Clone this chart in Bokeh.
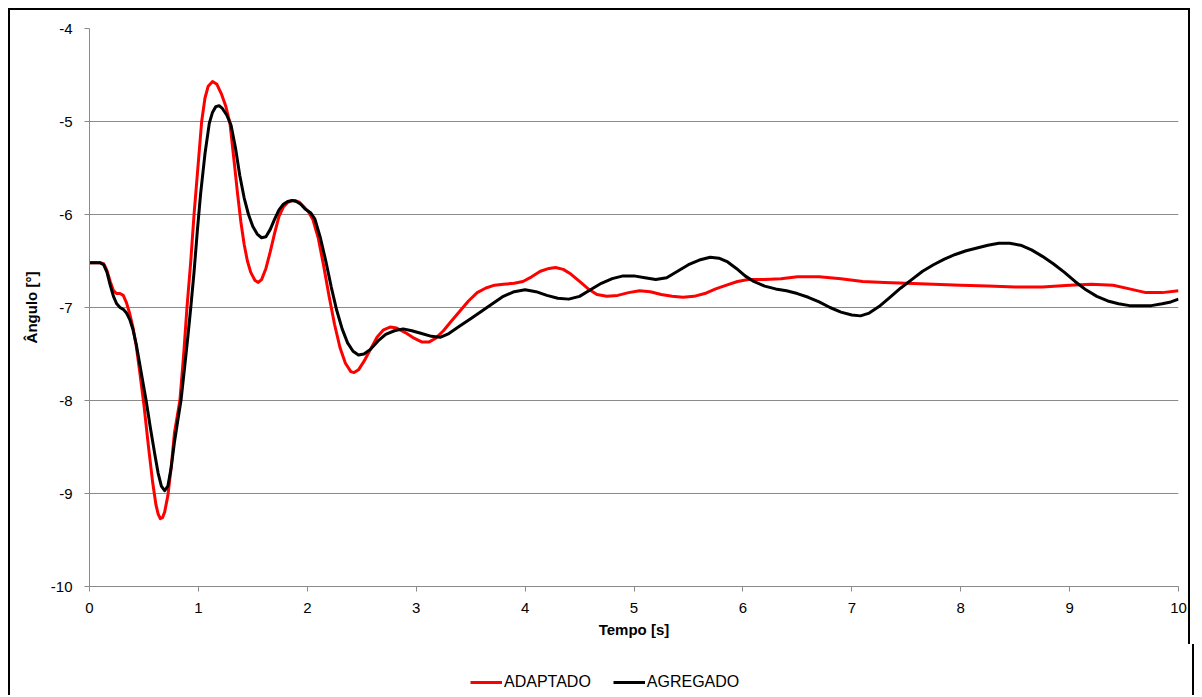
from bokeh.plotting import figure
from bokeh.models import Range1d, FixedTicker, Legend, LegendItem
from bokeh.layouts import column
from bokeh.embed import file_html
from bokeh.resources import INLINE

# ---- data ----
t_adaptado = [0, 0.05, 0.10, 0.13, 0.16, 0.19, 0.22, 0.25, 0.28, 0.31, 0.34, 0.37, 0.40, 0.43, 0.46,
              0.50, 0.54, 0.58, 0.61, 0.63, 0.65, 0.67, 0.69, 0.72, 0.75, 0.78, 0.83, 0.865, 0.895, 0.93,
              0.96, 0.995, 1.03, 1.06, 1.09, 1.13, 1.17, 1.21, 1.25, 1.29, 1.33, 1.36, 1.39, 1.42, 1.45,
              1.48, 1.52, 1.55, 1.58, 1.62, 1.66, 1.70, 1.74, 1.78, 1.82, 1.86, 1.89, 1.93, 1.97, 2.01,
              2.05, 2.10, 2.15, 2.20, 2.25, 2.30, 2.35, 2.40, 2.43, 2.47, 2.52, 2.58, 2.64, 2.70, 2.76,
              2.82, 2.90, 2.98, 3.05, 3.12, 3.18, 3.25, 3.32, 3.40, 3.48, 3.56, 3.64, 3.72, 3.80, 3.90,
              3.98, 4.06, 4.14, 4.22, 4.28, 4.35, 4.42, 4.50, 4.58, 4.66, 4.75, 4.85, 4.95, 5.05, 5.15,
              5.25, 5.35, 5.45, 5.55, 5.65, 5.75, 5.85, 5.95, 6.05, 6.20, 6.35, 6.50, 6.70, 6.90, 7.10,
              7.30, 7.50, 7.75, 8.00, 8.25, 8.50, 8.75, 9.00, 9.20, 9.40, 9.55, 9.70, 9.85, 10.0]
adaptado = [-6.52, -6.52, -6.52, -6.53, -6.60, -6.72, -6.82, -6.85, -6.85, -6.87, -6.95, -7.07, -7.22, -7.42, -7.68,
            -8.05, -8.48, -8.88, -9.12, -9.22, -9.27, -9.26, -9.20, -9.02, -8.72, -8.35, -8.00, -7.50, -7.00, -6.50,
            -6.00, -5.50, -5.00, -4.75, -4.62, -4.57, -4.60, -4.70, -4.83, -5.02, -5.45, -5.78, -6.08, -6.32, -6.50,
            -6.62, -6.71, -6.73, -6.70, -6.58, -6.40, -6.20, -6.02, -5.92, -5.87, -5.85, -5.85, -5.87, -5.92, -5.97,
            -6.05, -6.25, -6.55, -6.88, -7.18, -7.43, -7.60, -7.69, -7.70, -7.67, -7.58, -7.45, -7.32, -7.24, -7.21,
            -7.22, -7.27, -7.33, -7.37, -7.37, -7.33, -7.25, -7.15, -7.04, -6.93, -6.84, -6.79, -6.76, -6.75, -6.74,
            -6.72, -6.67, -6.61, -6.58, -6.57, -6.59, -6.64, -6.72, -6.80, -6.86, -6.88, -6.87, -6.84, -6.82, -6.83,
            -6.86, -6.88, -6.89, -6.88, -6.85, -6.80, -6.76, -6.72, -6.70, -6.70, -6.69, -6.67, -6.67, -6.69, -6.72,
            -6.73, -6.74, -6.75, -6.76, -6.77, -6.78, -6.78, -6.76, -6.75, -6.76, -6.80, -6.84, -6.84, -6.82]

t_agregado = [0, 0.05, 0.10, 0.13, 0.16, 0.19, 0.22, 0.25, 0.28, 0.31, 0.34, 0.37, 0.40, 0.43, 0.46,
              0.49, 0.52, 0.56, 0.60, 0.63, 0.66, 0.69, 0.72, 0.75, 0.78, 0.81, 0.84, 0.87, 0.90, 0.93,
              0.96, 0.99, 1.02, 1.06, 1.10, 1.13, 1.16, 1.19, 1.22, 1.26, 1.30, 1.34, 1.38, 1.42, 1.46,
              1.50, 1.54, 1.58, 1.62, 1.66, 1.70, 1.74, 1.78, 1.82, 1.86, 1.90, 1.94, 1.98, 2.03, 2.07,
              2.12, 2.17, 2.22, 2.27, 2.32, 2.37, 2.42, 2.47, 2.52, 2.58, 2.65, 2.72, 2.80, 2.88, 2.96,
              3.05, 3.14, 3.22, 3.30, 3.40, 3.50, 3.60, 3.70, 3.80, 3.90, 4.00, 4.10, 4.20, 4.30, 4.40,
              4.50, 4.60, 4.70, 4.80, 4.90, 5.00, 5.10, 5.20, 5.30, 5.40, 5.50, 5.60, 5.70, 5.78, 5.86,
              5.94, 6.02, 6.10, 6.20, 6.30, 6.40, 6.50, 6.60, 6.70, 6.80, 6.90, 7.00, 7.08, 7.16, 7.25,
              7.35, 7.45, 7.55, 7.65, 7.75, 7.85, 7.95, 8.05, 8.15, 8.25, 8.35, 8.45, 8.55, 8.65, 8.75,
              8.85, 8.95, 9.05, 9.15, 9.25, 9.35, 9.45, 9.55, 9.65, 9.75, 9.85, 9.93, 10.0]
agregado = [-6.52, -6.52, -6.52, -6.54, -6.62, -6.76, -6.88, -6.96, -7.00, -7.02, -7.06, -7.13, -7.24, -7.40, -7.60,
            -7.80, -8.00, -8.30, -8.58, -8.78, -8.92, -8.97, -8.92, -8.72, -8.45, -8.22, -8.00, -7.68, -7.35, -7.00,
            -6.62, -6.18, -5.78, -5.35, -5.02, -4.90, -4.84, -4.83, -4.86, -4.93, -5.04, -5.28, -5.58, -5.82, -6.00,
            -6.13, -6.21, -6.25, -6.24, -6.16, -6.05, -5.95, -5.89, -5.86, -5.85, -5.86, -5.89, -5.94, -5.98, -6.05,
            -6.25, -6.50, -6.78, -7.03, -7.23, -7.38, -7.47, -7.51, -7.50, -7.45, -7.36, -7.29, -7.25, -7.23, -7.25,
            -7.28, -7.31, -7.32, -7.28, -7.20, -7.12, -7.04, -6.96, -6.88, -6.83, -6.81, -6.83, -6.87, -6.90, -6.91,
            -6.88, -6.81, -6.74, -6.69, -6.66, -6.66, -6.68, -6.70, -6.68, -6.61, -6.54, -6.49, -6.46, -6.47, -6.51,
            -6.58, -6.66, -6.72, -6.77, -6.80, -6.82, -6.85, -6.89, -6.94, -7.00, -7.05, -7.08, -7.09, -7.06, -6.99,
            -6.89, -6.79, -6.70, -6.61, -6.54, -6.48, -6.43, -6.39, -6.36, -6.33, -6.31, -6.31, -6.33, -6.38, -6.45,
            -6.53, -6.62, -6.72, -6.81, -6.88, -6.93, -6.96, -6.98, -6.98, -6.98, -6.96, -6.94, -6.91]

x_ticks = [0, 1, 2, 3, 4, 5, 6, 7, 8, 9, 10]
y_ticks = [-10, -9, -8, -7, -6, -5, -4]
x_tick_labels = ["0", "1", "2", "3", "4", "5", "6", "7", "8", "9", "10"]
y_tick_labels = ["-10", "-9", "-8", "-7", "-6", "-5", "-4"]
series_names = ["ADAPTADO", "AGREGADO"]
series_colors = ["#ff0000", "#000000"]

FONT = "Liberation Sans"
GRAY = "#8a8a8a"

# ---- main chart ----
p = figure(frame_width=1085, frame_height=556, output_backend="svg", toolbar_location=None,
           x_range=Range1d(0, 10), y_range=Range1d(-10, -4),
           min_border_left=79, min_border_right=14, min_border_top=18, min_border_bottom=60)
p.styles = {"border-top": "2px solid black", "border-left": "2px solid black",
            "border-right": "2px solid black"}
p.outline_line_color = None
p.background_fill_color = "white"
p.border_fill_color = "white"

p.line(t_adaptado, adaptado, line_color=series_colors[0], line_width=3, line_join="round")
p.line(t_agregado, agregado, line_color=series_colors[1], line_width=3, line_join="round")

p.xaxis.ticker = FixedTicker(ticks=x_ticks)
p.yaxis.ticker = FixedTicker(ticks=y_ticks)
p.xaxis.major_label_overrides = {k: v for k, v in zip(x_ticks, x_tick_labels)}
p.yaxis.major_label_overrides = {k: v for k, v in zip(y_ticks, y_tick_labels)}

for ax in (p.xaxis, p.yaxis):
    ax.axis_line_color = GRAY
    ax.major_tick_line_color = GRAY
    ax.minor_tick_line_color = None
    ax.major_tick_in = 0
    ax.major_tick_out = 5
    ax.major_label_text_font = FONT
    ax.major_label_text_font_size = "15px"
    ax.major_label_text_color = "black"
    ax.axis_label_text_font = FONT
    ax.axis_label_text_font_size = "15px"
    ax.axis_label_text_font_style = "bold"
    ax.axis_label_text_color = "black"

p.xaxis.axis_label = "Tempo [s]"
p.yaxis.axis_label = "Ângulo [°]"
p.xaxis.major_label_standoff = 11
p.xaxis.axis_label_standoff = 5
p.yaxis.major_label_standoff = 12
p.yaxis.axis_label_standoff = 8

p.xgrid.grid_line_color = None
p.ygrid.grid_line_color = GRAY
p.ygrid.grid_line_width = 1

# ---- legend strip (a second, axis-less figure holding only the legend) ----
# the series are drawn again here, but fall outside this strip's 0..1 ranges,
# so only their legend swatches show
lg = figure(frame_width=1182, frame_height=51, output_backend="svg", toolbar_location=None,
            x_range=Range1d(0, 1), y_range=Range1d(0, 1),
            x_axis_type=None, y_axis_type=None, min_border=0)
lg.styles = {"border-left": "2px solid black", "border-right": "2px solid black"}
lg.outline_line_color = None
lg.background_fill_color = "white"
lg.border_fill_color = "white"
lg.grid.visible = False
k1 = lg.line(t_adaptado, adaptado, line_color=series_colors[0], line_width=3)
k2 = lg.line(t_agregado, agregado, line_color=series_colors[1], line_width=3)

legend = Legend(items=[LegendItem(label=series_names[0], renderers=[k1]),
                       LegendItem(label=series_names[1], renderers=[k2])],
                location=(460, 3), orientation="horizontal",
                glyph_width=32, glyph_height=20, label_height=20, label_standoff=2,
                spacing=22, padding=0, margin=0,
                label_text_font=FONT, label_text_font_size="16px", label_text_color="black",
                border_line_color=None, background_fill_alpha=0)
lg.add_layout(legend)

layout = column(p, lg, spacing=0, styles={"margin-left": "8px", "margin-top": "8px"})

open("out.html", "w").write(file_html(layout, INLINE))
